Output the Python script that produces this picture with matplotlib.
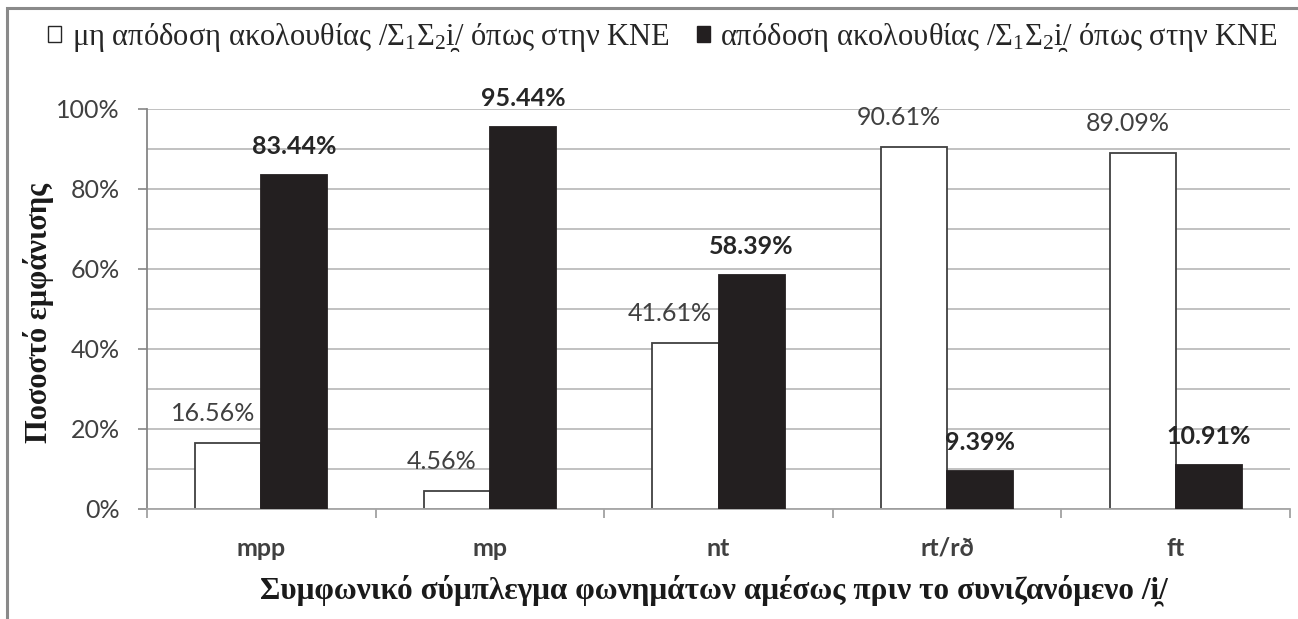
import matplotlib
matplotlib.use("Agg")
import matplotlib.pyplot as plt
from matplotlib.patches import Patch, Rectangle
from matplotlib.ticker import MultipleLocator, FixedLocator, PercentFormatter

categories = ["mpp", "mp", "nt", "rt/rð", "ft"]
no_sequence = [16.56, 4.56, 41.61, 90.61, 89.09]
with_sequence = [83.44, 95.44, 58.39, 9.39, 10.91]
legend_labels = [
    r"μη απόδοση ακολουθίας /$\Sigma_1\Sigma_2$i̯/ όπως στην ΚΝΕ",
    r"απόδοση ακολουθίας /$\Sigma_1\Sigma_2$i̯/ όπως στην ΚΝΕ",
]
y_title = "Ποσοστό εμφάνισης"
x_title = "Συμφωνικό σύμπλεγμα φωνημάτων αμέσως πριν το συνιζανόμενο /i̯/"

plt.rcParams['mathtext.fontset'] = 'custom'
plt.rcParams['mathtext.rm'] = 'Liberation Serif'
plt.rcParams['mathtext.it'] = 'Liberation Serif:italic'
plt.rcParams['font.family'] = ['Lato', 'DejaVu Sans']

sans = ['Lato', 'DejaVu Sans']
serif = ['Liberation Serif', 'DejaVu Serif']
grey = '#404040'

W, H = 1298, 619
fig = plt.figure(figsize=(W / 100, H / 100), dpi=100)
ax = fig.add_axes([147 / W, 110 / H, (1290 - 147) / W, 400 / H])

x = list(range(len(categories)))
bw = 0.289
b1 = ax.bar([i - bw / 2 for i in x], no_sequence, bw, color='white',
            edgecolor='#404040', linewidth=1.3, zorder=2)
b2 = ax.bar([i + bw / 2 for i in x], with_sequence, bw, color='#231f20',
            edgecolor='#231f20', linewidth=1.3, zorder=3)

for rect, v in zip(b1, no_sequence):
    ax.annotate(f"{v:.2f}%", (rect.get_x() + rect.get_width() / 2, v),
                xytext=(-11, 15.5), textcoords='offset points', ha='center',
                va='baseline', fontsize=18, color=grey, family=sans, zorder=2.5)
for rect, v in zip(b2, with_sequence):
    ax.annotate(f"{v:.2f}%", (rect.get_x() + rect.get_width() / 2, v),
                xytext=(0, 15.5), textcoords='offset points', ha='center',
                va='baseline', fontsize=18, color='#262626', fontweight='bold',
                family=sans, zorder=3.5)

ax.set_xlim(-0.5, len(categories) - 0.5)
ax.set_ylim(0, 100)

# category borders get the tick marks, names sit at the centres
ax.xaxis.set_major_locator(FixedLocator([i - 0.5 for i in range(len(categories) + 1)]))
ax.xaxis.set_minor_locator(FixedLocator(x))
ax.set_xticklabels([])
ax.set_xticklabels(categories, minor=True, fontsize=18, fontweight='bold',
                   color=grey, family=sans)
ax.tick_params(axis='x', which='major', length=6.5, color='#9a9a9a', width=1.2)
ax.tick_params(axis='x', which='minor', length=0, pad=20)

ax.yaxis.set_major_locator(MultipleLocator(20))
ax.yaxis.set_minor_locator(MultipleLocator(10))
ax.yaxis.set_major_formatter(PercentFormatter(decimals=0))
ax.tick_params(axis='y', which='major', length=6.5, color='#868686', width=1.2,
               labelsize=18, labelcolor=grey, pad=13)
ax.tick_params(axis='y', which='minor', length=0)
for t in ax.get_yticklabels():
    t.set_family(sans)

ax.set_axisbelow(True)
ax.grid(axis='y', which='both', color='#bcbcbc', linewidth=1.3)
for s in ['top', 'right']:
    ax.spines[s].set_visible(False)
ax.spines['left'].set_color('#868686')
ax.spines['left'].set_linewidth(1.3)
ax.spines['bottom'].set_color('#a6a6a6')
ax.spines['bottom'].set_linewidth(1.3)

fig.text(39 / W, 1 - 313 / H, y_title, rotation=90, ha='center', va='center',
         fontsize=22, fontweight='bold', family=serif, color='#1a1a1a')
fig.text(714 / W, 1 - 590 / H, x_title, ha='center', va='center',
         fontsize=22.5, fontweight='bold', family=serif, color='#1a1a1a')

handles = [Patch(facecolor='white', edgecolor='#262626', linewidth=1.0),
           Patch(facecolor='#231f20', edgecolor='#231f20', linewidth=1.0)]
leg = fig.legend(handles, legend_labels, loc='center left',
                 bbox_to_anchor=(48 / W, 1 - 37 / H), ncol=2, frameon=False,
                 borderpad=0, borderaxespad=0, handlelength=0.42,
                 handleheight=0.42, handletextpad=0.35, columnspacing=0.9,
                 prop={'family': serif, 'size': 22})
for t in leg.get_texts():
    t.set_color('#262626')

# outer frame, open at the right and bottom edges
fig.add_artist(Rectangle((7 / W, -0.1), 1.2, 1.1 - 8 / H, transform=fig.transFigure,
                         fill=False, edgecolor='#8a8a8a', linewidth=2.2))

fig.savefig('out.png', dpi=100)
